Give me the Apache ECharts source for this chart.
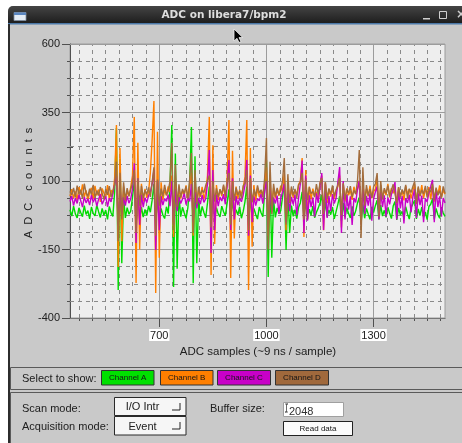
<!DOCTYPE html>
<html><head><meta charset="utf-8">
<script src="https://cdn.jsdelivr.net/npm/echarts@6/dist/echarts.min.js"></script>
<style>html,body{margin:0;padding:0;background:#fff;}#c{width:462px;height:443px;}</style>
</head><body><div id="c"></div>
<script>
// ADC samples shown: first sample index and spacing of the read-off points
const sampleStart = 450, sampleStep = 5;

// Channel A (green)
const chA = [-5,-28,8,-20,-35,2,-15,-30,10,-22,
 -8,-38,5,-18,-27,12,-12,-33,0,-25,
 -6,-40,7,-16,-29,60,293,-298,180,-200,
 40,-35,3,-21,-10,40,100,-60,50,-40,
 5,-32,-4,-26,9,-14,30,90,-50,40,
 -45,0,-24,-37,6,-19,80,304,-287,200,
 -220,50,-30,4,-17,-36,2,90,297,-273,
 190,-200,30,-28,7,-15,-34,20,80,-50,
 40,-38,3,-20,-31,8,-12,-27,20,70,
 -40,30,-30,-5,-24,6,-36,-11,25,80,
 -60,40,-35,0,-22,-39,5,-16,-30,60,
 177,-250,120,-180,30,-33,2,-20,-8,40,
 100,-152,60,-90,10,-29,-5,-37,4,20,
 60,-50,30,-40,-3,-25,8,-34,-14,1,
 20,50,-40,25,-30,-6,-23,5,-38,-12,
 15,45,-45,20,-32,3,-19,-35,7,-27,
 -9,20,40,-55,15,-36,0,-21,-40,6,
 -15,10,30,-40,12,-28,-7,-33,4,-18,
 -37,9,25,-42,2,-24,-11,-35,6,-20,
 -39,3,10,30,-38,-2,-26,5,-32,-13,
 -41,7,15,35,-40,0,-23,-36,4,-17,
 -29];

// Channel B (orange)
const chB = [45,70,38,62,30,78,50,88,41,66,
 27,59,75,35,82,48,69,24,73,55,
 40,85,33,67,52,110,304,-214,220,-120,
 80,20,65,44,78,120,334,-272,240,-150,
 90,25,71,39,60,130,250,392,-309,280,
 -180,95,30,68,47,80,60,120,-104,90,
 10,72,36,64,50,84,28,75,130,-100,
 95,15,66,42,79,33,62,120,334,-243,
 230,-130,85,30,70,45,81,38,110,323,
 -254,210,-110,80,35,68,49,76,115,323,
 -298,220,-140,85,28,73,41,64,52,90,
 150,-100,110,5,74,37,69,46,83,60,
 130,-80,95,20,71,39,66,50,87,100,
 184,-104,140,-40,80,33,72,45,61,29,
 90,120,-80,95,20,68,43,77,36,64,
 80,120,-70,90,25,73,48,66,31,79,
 52,70,100,-40,85,30,71,44,83,37,
 62,70,110,-20,85,35,68,48,90,40,
 74,55,80,10,77,43,66,29,81,52,
 70,36,64,88,20,75,46,85,38,69,
 54,78,33,82,25,71,49,84,40,66,
 52];

// Channel C (magenta)
const chC = [25,45,10,38,18,50,28,5,42,20,
 35,12,48,22,40,8,33,52,15,30,
 44,6,37,24,55,60,120,-60,80,-20,
 40,10,46,19,35,70,165,-126,110,-60,
 50,5,39,21,47,60,90,140,-152,100,
 -80,45,12,36,26,50,8,100,-60,70,
 -10,42,18,34,55,14,40,25,90,-50,
 60,0,38,16,48,22,35,90,213,-163,
 140,-80,50,8,41,27,52,15,80,177,
 -79,110,-40,45,12,38,24,49,85,177,
 -100,120,-50,44,10,36,28,53,17,60,
 100,-60,70,-15,40,18,47,-20,35,60,
 90,-50,65,-10,42,15,50,-25,38,90,
 175,-90,120,-45,48,5,40,-30,55,20,
 80,129,-79,90,-35,45,-10,52,18,37,
 95,151,-90,100,-40,50,-5,44,-60,38,
 22,70,100,-60,75,-20,46,10,55,-45,
 35,60,80,-40,60,5,48,-30,40,15,
 52,70,96,-40,65,0,45,-55,38,20,
 50,-15,42,70,-35,55,12,47,-50,36,
 24,58,80,104,-50,70,5,44,-30,38,
 20];

// Channel D (brown)
const chD = [62,48,75,40,83,52,68,35,90,57,
 44,72,50,86,38,65,47,78,55,33,
 70,49,81,42,64,85,170,-120,130,-40,
 95,30,74,45,68,95,140,-90,110,10,
 82,38,66,51,77,42,95,150,-100,105,
 10,72,44,86,49,63,100,239,-80,160,
 5,88,40,71,54,80,36,105,202,-90,
 140,15,79,47,66,58,84,90,120,-70,
 100,25,73,41,69,52,87,46,95,130,
 -60,100,28,76,49,63,37,82,92,140,
 -80,110,22,70,45,84,56,68,40,110,
 257,-150,170,-20,90,42,75,50,66,100,
 184,-60,125,20,80,48,71,38,86,95,
 130,-40,105,30,77,54,62,41,89,50,
 92,110,-20,95,35,73,51,84,44,68,
 85,110,-25,92,33,70,56,81,42,66,
 53,100,213,-108,150,10,85,47,70,38,
 79,90,129,-30,100,32,74,55,83,45,
 67,88,95,20,78,41,69,52,86,37,
 72,58,80,98,15,80,44,67,53,82,
 40,71,59,90,30,76,48,65,39,80,
 55];

const xMin = 450, xMax = 1500, yMin = -400, yMax = 600;
const xMajor = [700, 1000, 1300];
const xMinor = [475,512.5,550,587.5,625,662.5,737.5,775,812.5,850,887.5,925,962.5,
  1037.5,1075,1112.5,1150,1187.5,1225,1262.5,1337.5,1375,1412.5,1450,1487.5];
const yMajor = [-400, -150, 100, 350, 600];
const yMinor = [-337.5,-275,-212.5,-87.5,-25,37.5,162.5,225,287.5,412.5,475,537.5];
const channelNames = ['Channel A','Channel B','Channel C','Channel D'];
const channelColors = ['#00dc00','#ff7f00','#c800c8','#a36d3d'];
const buttonColors = ['#00e000','#ff7f00','#c800c8','#a0693c'];
const channelData = [chA, chB, chC, chD];

const FONT = '"Liberation Sans", Arial, sans-serif';
const chart = echarts.init(document.getElementById('c'), null, {renderer:'canvas'});

const G = {left:70, top:44, width:375, height:274, containLabel:false, outerBoundsMode:'none', show:false};

function xAx(i, tick, extra){
  return Object.assign({gridIndex:i, type:'value', min:xMin, max:xMax,
    axisLine:{show:false, onZero:false},
    axisTick:tick, axisLabel:{show:false}, splitLine:{show:false}, minorTick:{show:false}, minorSplitLine:{show:false}}, extra||{});
}
function yAx(i, tick, extra){
  return Object.assign({gridIndex:i, type:'value', min:yMin, max:yMax,
    axisLine:{show:false, onZero:false},
    axisTick:tick, axisLabel:{show:false}, splitLine:{show:false}, minorTick:{show:false}, minorSplitLine:{show:false}}, extra||{});
}
const tickStyle = {color:'#505050', width:1};

const gridLineSeries = [
  {vals:xMinor, vertical:true, dash:[4,4], color:'#8a8a8a'},
  {vals:yMinor, vertical:false, dash:[4,4], color:'#8a8a8a'},
  {vals:xMajor, vertical:true, dash:'solid', color:'#9c9c9c'},
  {vals:yMajor, vertical:false, dash:'solid', color:'#9c9c9c'}
].map(g => ({
  type:'lines', coordinateSystem:'cartesian2d', xAxisIndex:0, yAxisIndex:0, z:1, silent:true,
  polyline:false, animation:false,
  lineStyle:{color:g.color, width:1, type:g.dash, opacity:1, curveness:0},
  data: g.vals.map(v => ({coords: g.vertical ? [[v, yMin],[v, yMax]] : [[xMin, v],[xMax, v]]}))
}));

const dataSeries = channelData.map((arr, k) => ({
  type:'line', name:channelNames[k], xAxisIndex:0, yAxisIndex:0, z:3, silent:true,
  symbol:'none', showSymbol:false, animation:false, clip:true,
  lineStyle:{color:channelColors[k], width:1.4, join:'bevel'},
  data: arr.map((v, i) => [sampleStart + i*sampleStep, v])
}));

const txt = (x, y, s, o) => Object.assign({type:'text', x:x, y:y, z:20,
  style:Object.assign({text:s, font:'11px '+FONT, fill:'#202020', align:'left', verticalAlign:'middle'}, o||{})});
const box = (x, y, w, h, fill, stroke, z) => ({type:'rect', z:z||15, shape:{x:x, y:y, width:w, height:h},
  style:{fill:fill, stroke:stroke, lineWidth:1}});

const btns = [[101.5,52.5],[160.5,52.5],[217.5,53],[275.5,53]];
const buttonGraphics = [];
btns.forEach((b, k) => {
  buttonGraphics.push(box(b[0], 370.5, b[1], 14.5, buttonColors[k], '#333'));
  buttonGraphics.push(txt(b[0]+b[1]/2, 378.2, channelNames[k], {font:'8px '+FONT, align:'center', fill:'#151515'}));
});

const graphics = [
  // window
  {type:'rect', z:-10, shape:{x:8, y:6, width:470, height:450, r:[5,5,0,0]}, style:{fill:'#c9c9c9'}},
  {type:'rect', z:-9, shape:{x:8, y:6, width:470, height:17.5, r:[5,5,0,0]},
    style:{fill:new echarts.graphic.LinearGradient(0,0,0,1,[{offset:0,color:'#444'},{offset:1,color:'#1d1d1d'}])}},
  {type:'rect', z:-8, shape:{x:8, y:23, width:470, height:1.5}, style:{fill:'#4b78a8'}},
  {type:'rect', z:-8, shape:{x:8, y:24, width:2, height:430}, style:{fill:'#2c2c2c'}},
  {type:'rect', z:-8, shape:{x:14, y:12.5, width:12, height:8}, style:{fill:'#e4ecf5', stroke:'#7d8da0', lineWidth:0.8}},
  {type:'rect', z:-7, shape:{x:14, y:12.5, width:12, height:2.5}, style:{fill:'#5a86c0'}},
  txt(224, 15, 'ADC on libera7/bpm2', {font:'bold 10.5px "DejaVu Sans", sans-serif', fill:'#dedede', align:'center'}),
  {type:'rect', z:-7, shape:{x:423, y:18, width:7, height:1.5}, style:{fill:'#cfcfcf'}},
  {type:'rect', z:-7, shape:{x:439.5, y:11.5, width:7, height:7}, style:{fill:null, stroke:'#cfcfcf', lineWidth:1}},
  txt(461, 15, '×', {font:'bold 12px "DejaVu Sans", sans-serif', fill:'#cfcfcf', align:'center'}),
  // plot background
  {type:'rect', z:-5, shape:{x:70, y:44, width:375, height:274}, style:{fill:'#eeeeee', stroke:'#9c9c9c', lineWidth:1}},
  // axis names
  {type:'text', z:20, x:29, y:183, rotation:Math.PI/2,
    style:{text:'A  D  C    c  o  u  n  t  s', font:'11px '+FONT, fill:'#202020', align:'center', verticalAlign:'middle'}},
  txt(258, 352, 'ADC samples (~9 ns / sample)', {align:'center', font:'11.5px '+FONT}),
  // panels
  box(10.5, 367.5, 470, 22, null, '#5a5a5a', 12),
  box(10.5, 392.5, 470, 70, null, '#5a5a5a', 12),
  txt(22, 379, 'Select to show:'),
  ...buttonGraphics,
  txt(22, 409, 'Scan mode:'),
  txt(22, 427, 'Acquisition mode:'),
  box(114.5, 397.5, 71.5, 18, '#f6f6f6', '#2a2a2a'),
  txt(142.5, 406.5, 'I/O Intr', {align:'center'}),
  {type:'polyline', z:16, shape:{points:[[180,403],[180,410],[172,410]]}, style:{stroke:'#222', lineWidth:1, fill:null}},
  box(114.5, 416.5, 71.5, 18.5, '#f6f6f6', '#2a2a2a'),
  txt(142.5, 426.5, 'Event', {align:'center'}),
  {type:'polyline', z:16, shape:{points:[[180,422],[180,429],[172,429]]}, style:{stroke:'#222', lineWidth:1, fill:null}},
  txt(210, 409, 'Buffer size:'),
  box(283.5, 402.5, 60, 14, '#ffffff', '#a0a0a0'),
  txt(289, 412, '2048', {fill:'#303030'}),
  {type:'polyline', z:16, shape:{points:[[285,404],[288,404],[286.5,404],[286.5,412],[285,412],[288,412]]}, style:{stroke:'#444', lineWidth:0.8, fill:null}},
  box(283.5, 421.5, 69, 14, '#fbfbfb', '#222'),
  txt(318, 428.5, 'Read data', {font:'8px '+FONT, align:'center', fill:'#151515'}),
  // mouse pointer
  {type:'polygon', z:30, x:234, y:29, shape:{points:[[0,0],[0,12],[3,9.3],[5,13.5],[7,12.6],[5,8.6],[8.8,8.6]]},
    style:{fill:'#000', stroke:'#f0f0f0', lineWidth:0.8}}
];

const option = {
  backgroundColor:'#ffffff',
  animation:false,
  grid:[G, G, G],
  xAxis:[
    xAx(0, {show:true, customValues:xMajor, length:9, lineStyle:tickStyle}, {
      axisLine:{show:true, onZero:false, lineStyle:{color:'#505050', width:1}},
      axisLabel:{show:true, customValues:xMajor, margin:11, color:'#202020', fontSize:11, fontFamily:FONT,
        backgroundColor:'#ffffff', padding:[1,1,0,1], formatter:v => String(v), showMinLabel:true, showMaxLabel:true}
    }),
    xAx(1, {show:true, customValues:xMinor, length:3, lineStyle:tickStyle}),
    xAx(2, {show:true, customValues:xMinor.concat(xMajor), length:3, inside:true, lineStyle:tickStyle})
  ],
  yAxis:[
    yAx(0, {show:true, customValues:yMajor, length:8, lineStyle:tickStyle}, {
      axisLine:{show:true, onZero:false, lineStyle:{color:'#505050', width:1}},
      axisLabel:{show:true, customValues:yMajor, margin:10, color:'#202020', fontSize:11, fontFamily:FONT,
        formatter:v => String(v), showMinLabel:true, showMaxLabel:true}
    }),
    yAx(1, {show:true, customValues:yMinor, length:3, lineStyle:tickStyle}),
    yAx(2, {show:true, customValues:yMinor, length:3, inside:true, lineStyle:tickStyle})
  ],
  graphic:{elements:graphics},
  series:[...gridLineSeries, ...dataSeries]
};
chart.setOption(option);
</script>
</body></html>
